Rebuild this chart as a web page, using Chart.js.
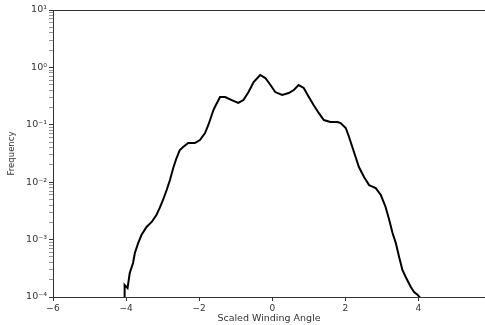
<!DOCTYPE html>
<html>
<head>
<meta charset="utf-8">
<script src="https://cdn.jsdelivr.net/npm/chart.js@4.4.1/dist/chart.umd.min.js"></script>
<style>
    html, body { margin: 0; padding: 0; background: #fff; }
    #wrap { width: 485px; height: 325px; }
</style>
</head>
<body>
<div id="wrap"><canvas id="angleChart"></canvas></div>
<script>
// scaled winding angle (x) and frequency (y)
const angles = [-4.05, -4.04, -3.96, -3.90, -3.81, -3.76, -3.67, -3.58, -3.44, -3.30, -3.17,
    -3.08, -2.99, -2.89, -2.80, -2.71, -2.62, -2.53, -2.44, -2.30, -2.12, -1.98, -1.84,
    -1.75, -1.61, -1.57, -1.43, -1.29, -1.11, -0.93, -0.79, -0.65, -0.51, -0.33, -0.19,
    -0.05, 0.08, 0.27, 0.45, 0.59, 0.72, 0.86, 1.00, 1.13, 1.27, 1.41, 1.59, 1.78, 1.87,
    2.01, 2.10, 2.19, 2.28, 2.37, 2.51, 2.65, 2.83, 2.97, 3.10, 3.20, 3.29, 3.38, 3.47,
    3.56, 3.65, 3.79, 3.88, 3.98, 4.05];
const frequency = [0.00005, 0.000162, 0.000143, 0.000262, 0.000391, 0.000585, 0.00087, 0.0012,
    0.00166, 0.00203, 0.00268, 0.00356, 0.0049, 0.0073, 0.0109, 0.0177, 0.0264, 0.0364,
    0.041, 0.0482, 0.0482, 0.0543, 0.0719, 0.0993, 0.181, 0.204, 0.305, 0.305, 0.27, 0.24,
    0.27, 0.372, 0.557, 0.738, 0.653, 0.493, 0.372, 0.33, 0.358, 0.404, 0.493, 0.438, 0.305,
    0.221, 0.161, 0.121, 0.112, 0.112, 0.107, 0.088, 0.0613, 0.041, 0.0275, 0.0184, 0.0123,
    0.0089, 0.0079, 0.00598, 0.0037, 0.00219, 0.0013, 0.00087, 0.000498, 0.000295, 0.000223,
    0.000149, 0.000122, 0.000109, 0.000096];

const xTicks = [-6, -4, -2, 0, 2, 4];
const yDecades = [-4, -3, -2, -1, 0, 1];

const sup = { "-": "\u207B", "0": "\u2070", "1": "\u00B9", "2": "\u00B2", "3": "\u00B3", "4": "\u2074" };
function decadeLabel(p) {
    return "10" + String(p).split("").map(c => sup[c]).join("");
}

// top spine, matplotlib style
const topSpine = {
    id: "topSpine",
    afterDraw(chart) {
        const a = chart.chartArea, ctx = chart.ctx;
        ctx.save();
        ctx.strokeStyle = "#333";
        ctx.lineWidth = 1;
        ctx.beginPath();
        ctx.moveTo(a.left, a.top + 0.5);
        ctx.lineTo(a.right, a.top + 0.5);
        ctx.stroke();
        ctx.restore();
    }
};

Chart.defaults.font.family = "'DejaVu Sans', sans-serif";
Chart.defaults.color = "#333";

new Chart(document.getElementById("angleChart").getContext("2d"), {
    type: "line",
    data: {
        datasets: [{
            data: angles.map((a, i) => ({ x: a, y: frequency[i] })),
            borderColor: "#000",
            borderWidth: 2,
            pointRadius: 0,
            tension: 0
        }]
    },
    options: {
        responsive: true,
        maintainAspectRatio: false,
        animation: false,
        layout: { padding: { top: 10, right: 0, left: 0, bottom: 0 } },
        plugins: { legend: { display: false }, tooltip: { enabled: false } },
        scales: {
            x: {
                type: "linear",
                min: -6,
                max: 5.82,
                afterBuildTicks: s => { s.ticks = xTicks.map(v => ({ value: v })); },
                afterFit: s => { s.height = 28; },
                grid: { drawOnChartArea: false, tickLength: 4, color: "#333" },
                border: { color: "#333", width: 1 },
                ticks: { font: { size: 9 }, padding: 2, maxRotation: 0, callback: v => String(v).replace("-", "\u2212") },
                title: { display: true, text: "Scaled Winding Angle", font: { size: 9.5 }, padding: { top: 0, bottom: 1 } }
            },
            y: {
                type: "logarithmic",
                min: 1e-4,
                max: 10,
                afterBuildTicks: s => {
                    const t = [];
                    yDecades.forEach(p => {
                        for (let m = 1; m <= 9; m++) {
                            if (p === 1 && m > 1) break;
                            t.push({ value: m * Math.pow(10, p), major: m === 1 });
                        }
                    });
                    s.ticks = t;
                },
                afterFit: s => { s.width = 53; },
                grid: {
                    drawOnChartArea: false,
                    tickLength: 4,
                    color: "#333",
                    tickWidth: c => (c.tick && c.tick.major ? 1 : 0.5)
                },
                border: { color: "#333", width: 1 },
                ticks: {
                    font: { size: 9.5 },
                    padding: 2,
                    autoSkip: false,
                    callback: function (v) {
                        const p = Math.log10(v);
                        return Math.abs(p - Math.round(p)) < 1e-9 ? decadeLabel(Math.round(p)) : "";
                    }
                },
                title: { display: true, text: "Frequency", font: { size: 8.5 }, padding: { top: 7, bottom: 4 } }
            }
        }
    },
    plugins: [topSpine]
});
</script>
</body>
</html>
